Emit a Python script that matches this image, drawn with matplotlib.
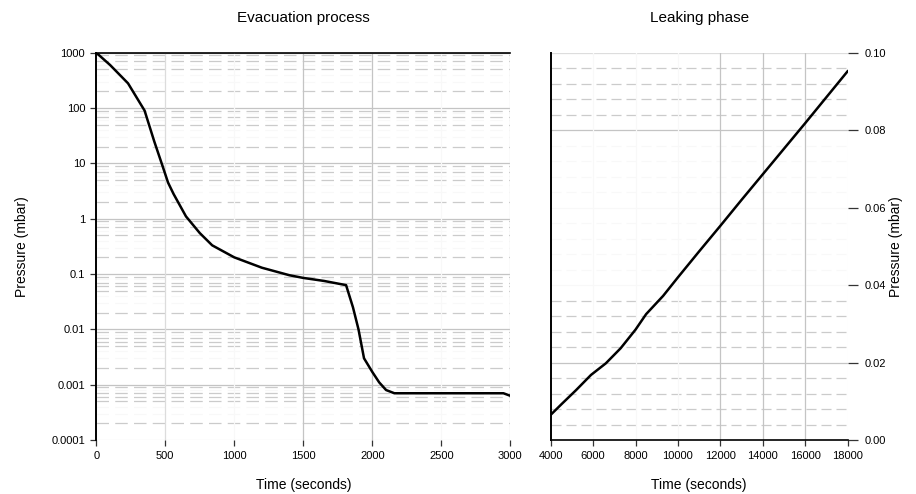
import numpy as np
import matplotlib.pyplot as plt
from matplotlib.ticker import FixedLocator, FuncFormatter, NullLocator

plt.rcParams['font.family'] = ['Liberation Sans', 'DejaVu Sans']

# pump-down curve (seconds, mbar)
evac_time = [0, 100, 230, 350, 420, 480, 520, 560, 650, 750, 840, 1000, 1200,
             1400, 1500, 1650, 1810, 1860, 1900, 1940, 2000, 2050, 2100, 2160,
             2500, 2950, 3000]
evac_pressure = [1000, 600, 280, 90, 25, 9, 4.5, 2.8, 1.1, 0.55, 0.33, 0.2,
                 0.13, 0.095, 0.085, 0.075, 0.063, 0.025, 0.01, 0.003, 0.0017,
                 0.0011, 0.0008, 0.0007, 0.0007, 0.0007, 0.00063]

# pressure rise after the pump is closed
leak_time = [4000, 4500, 5200, 5900, 6600, 7300, 8000, 8500, 9300, 10000,
             11000, 12000, 13000, 14000, 15000, 16000, 17000, 18000]
leak_pressure = [0.0065, 0.0092, 0.0129, 0.0168, 0.0198, 0.0237, 0.0285,
                 0.0325, 0.0372, 0.042, 0.0487, 0.0553, 0.062, 0.0686, 0.0752,
                 0.0818, 0.0885, 0.0952]

evac_xticks = [0, 500, 1000, 1500, 2000, 2500, 3000]
evac_yticks = [1e-4, 1e-3, 1e-2, 1e-1, 1, 10, 100, 1000]
leak_xticks = [4000, 6000, 8000, 10000, 12000, 14000, 16000, 18000]
leak_yticks = [0.0, 0.02, 0.04, 0.06, 0.08, 0.10]

GRID = '#c4c4c4'
MINOR = '#cbcbcb'
FAINT = '#f8f8f8'
DASH = (0, (10, 5))

fig = plt.figure(figsize=(9.16, 4.94), dpi=100)
ax1 = fig.add_axes([0.1051, 0.1093, 0.452, 0.784])
ax2 = fig.add_axes([0.6012, 0.1093, 0.3241, 0.784])

# ---- left: evacuation, log scale ----
ax1.set_yscale('log')
ax1.set_xlim(0, 3000)
ax1.set_ylim(1e-4, 1e3)

for dec in evac_yticks[:-1]:
    for m in (2, 3, 4, 5, 6, 7, 8, 9):
        shown = m in (2, 5, 7, 9) or (m == 6 and dec < 0.1)
        ax1.axhline(dec * m, color=MINOR if shown else FAINT,
                    lw=0.9, ls=DASH, zorder=0)
for v in evac_yticks:
    ax1.axhline(v, color=GRID if v > 1e-4 else '#e8e8e8', lw=0.9, zorder=0)
for v in evac_xticks:
    c = GRID if v in (1500, 2000) else ('#dcdcdc' if v in (500, 3000) else FAINT)
    ax1.axvline(v, color=c, lw=0.9, zorder=0)

ax1.plot(evac_time, evac_pressure, color='black', lw=1.8, zorder=3)

ax1.yaxis.set_major_locator(FixedLocator(evac_yticks))
ax1.yaxis.set_minor_locator(NullLocator())
ax1.yaxis.set_major_formatter(FuncFormatter(lambda v, p: f'{v:g}'))
ax1.xaxis.set_major_locator(FixedLocator(evac_xticks))

for s in ('right', 'bottom'):
    ax1.spines[s].set_visible(False)
ax1.spines['left'].set_linewidth(1.4)
ax1.spines['top'].set_linewidth(1.2)
ax1.tick_params(axis='both', labelsize=8, length=4, width=0.9, color='#333333',
                pad=4)

ax1.set_title('Evacuation process', fontsize=11, pad=22)
ax1.set_xlabel('Time (seconds)', fontsize=10, labelpad=12)
ax1.set_ylabel('Pressure (mbar)', fontsize=10, labelpad=16)

# ---- right: leaking, linear scale ----
ax2.set_xlim(4000, 18000)
ax2.set_ylim(0, 0.10)

for v in np.arange(0.004, 0.1, 0.004):
    if abs(v / 0.02 - round(v / 0.02)) < 1e-6:
        continue
    c = FAINT if 0.04 < v < 0.08 else MINOR
    ax2.axhline(v, color=c, lw=0.9, ls=(0, (8, 4)), zorder=0)
for v in leak_yticks[1:]:
    ax2.axhline(v, color=GRID if v in (0.02, 0.08) else
                ('#dddddd' if v == 0.10 else FAINT), lw=0.9, zorder=0)
for v in leak_xticks[1:]:
    ax2.axvline(v, color=GRID if v in (12000, 14000, 16000) else FAINT,
                lw=0.9, zorder=0)

ax2.plot(leak_time, leak_pressure, color='black', lw=1.8, zorder=3)

ax2.xaxis.set_major_locator(FixedLocator(leak_xticks))
ax2.yaxis.set_major_locator(FixedLocator(leak_yticks))
ax2.yaxis.set_major_formatter(FuncFormatter(lambda v, p: f'{v:.2f}'))
ax2.yaxis.tick_right()
ax2.yaxis.set_label_position('right')

for s in ('right', 'top'):
    ax2.spines[s].set_visible(False)
ax2.spines['left'].set_linewidth(1.4)
ax2.spines['bottom'].set_linewidth(1.2)
ax2.tick_params(axis='x', labelsize=8, length=4, width=0.9, color='#333333',
                pad=4)
ax2.tick_params(axis='y', labelsize=8, length=7, width=0.9, color='#333333',
                pad=5)

ax2.set_title('Leaking phase', fontsize=11, pad=22)
ax2.set_xlabel('Time (seconds)', fontsize=10, labelpad=12)
ax2.set_ylabel('Pressure (mbar)', fontsize=10, labelpad=2)

fig.savefig('out.png', dpi=100)
